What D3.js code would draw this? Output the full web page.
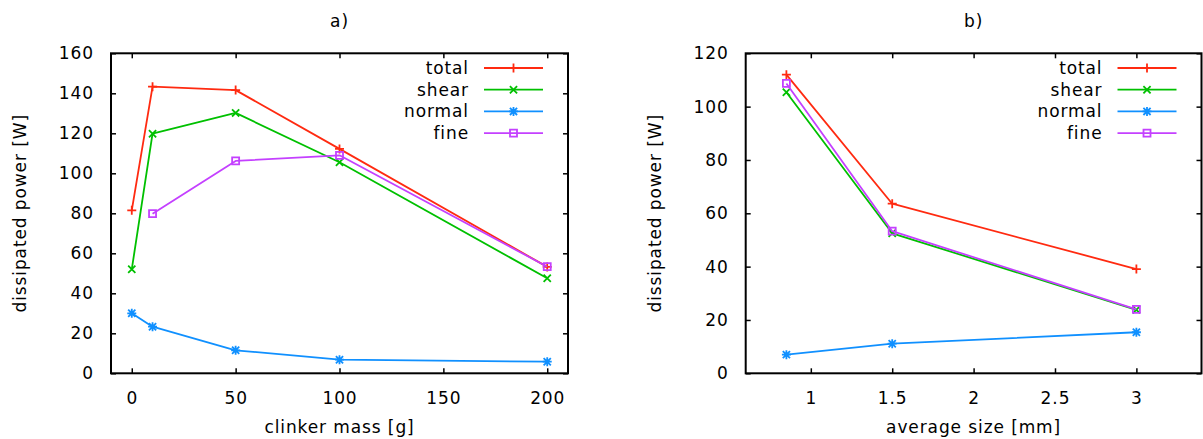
<html>
<head>
  <script src="https://d3js.org/d3.v7.min.js"></script>
  <style>
    body { margin: 0; background: #fff; }
    text { font-family: "DejaVu Sans", sans-serif; font-size: 17px; letter-spacing: 0.9px; fill: #000; }
  </style>
</head>
<body>
<svg width="1203" height="439"></svg>
<script>
// panel a) clinker mass
var massX = [0, 10, 50, 100, 200];
var totalA = [81.5, 143.3, 141.6, 112.2, 53.2];
var shearA = [52, 119.8, 130.2, 105.5, 47.5];
var normalA = [30, 23.3, 11.5, 6.8, 5.8];
var fineA = [null, 79.8, 106.2, 109, 53.3];
var ticksXA = [0, 50, 100, 150, 200];
var ticksYA = [0, 20, 40, 60, 80, 100, 120, 140, 160];

// panel b) average size
var sizeX = [0.85, 1.5, 3];
var totalB = [112, 63.6, 39.1];
var shearB = [105.4, 52.5, 23.8];
var normalB = [7, 11.1, 15.4];
var fineB = [108.7, 53.3, 24];
var ticksXB = [1, 1.5, 2, 2.5, 3];
var ticksYB = [0, 20, 40, 60, 80, 100, 120];

var seriesNames = ["total", "shear", "normal", "fine"];
var colors = ["#ff2a10", "#00c000", "#1090ff", "#c440ff"];
var markers = ["plus", "cross", "star", "square"];

var svg = d3.select("svg");

function marker(type, r) {
  var p = d3.path();
  if (type == "plus" || type == "star") {
    p.moveTo(-r, 0); p.lineTo(r, 0);
    p.moveTo(0, -r); p.lineTo(0, r);
  }
  if (type == "cross" || type == "star") {
    var q = r * 0.8;
    p.moveTo(-q, -q); p.lineTo(q, q);
    p.moveTo(-q, q); p.lineTo(q, -q);
  }
  if (type == "square") {
    p.rect(-3.5, -3.5, 7, 7);
  }
  return p.toString();
}

function panel(o) {
  var x = d3.scaleLinear().domain(o.xdom).range([o.left, o.right]);
  var y = d3.scaleLinear().domain(o.ydom).range([o.bottom, o.top]);
  var g = svg.append("g");

  var bottom = g.append("g").attr("transform", "translate(0," + o.bottom + ")")
    .call(d3.axisBottom(x).tickValues(o.xticks).tickSize(-5).tickPadding(18.5).tickFormat(d3.format("")));
  var top = g.append("g").attr("transform", "translate(0," + o.top + ")")
    .call(d3.axisTop(x).tickValues(o.xticks).tickSize(-5).tickFormat(""));
  var left = g.append("g").attr("transform", "translate(" + o.left + ",0)")
    .call(d3.axisLeft(y).tickValues(o.yticks).tickSize(-5).tickPadding(17));
  var right = g.append("g").attr("transform", "translate(" + o.right + ",0)")
    .call(d3.axisRight(y).tickValues(o.yticks).tickSize(-5).tickFormat(""));
  g.selectAll(".domain").remove();
  g.selectAll(".tick line").attr("stroke", "#000").attr("stroke-width", 1.5);
  g.selectAll(".tick text").attr("font-size", null).attr("font-family", null);

  g.append("rect")
    .attr("x", o.left).attr("y", o.top)
    .attr("width", o.right - o.left).attr("height", o.bottom - o.top)
    .attr("fill", "none").attr("stroke", "#000").attr("stroke-width", 2);

  var line = d3.line()
    .defined(function(d) { return d[1] != null; })
    .x(function(d) { return x(d[0]); })
    .y(function(d) { return y(d[1]); });

  o.series.forEach(function(vals, i) {
    var pts = o.xs.map(function(v, j) { return [v, vals[j]]; });
    g.append("path").datum(pts)
      .attr("d", line)
      .attr("fill", "none")
      .attr("stroke", colors[i])
      .attr("stroke-width", 1.8)
      .attr("stroke-linejoin", "round");
    g.selectAll(".m" + i)
      .data(pts.filter(function(d) { return d[1] != null; }))
      .enter().append("path")
      .attr("transform", function(d) { return "translate(" + x(d[0]) + "," + y(d[1]) + ")"; })
      .attr("d", marker(markers[i], 4.5))
      .attr("fill", "none")
      .attr("stroke", colors[i])
      .attr("stroke-width", 1.8);

    // legend
    var ly = 68 + i * 21.7;
    var lx2 = o.right - 25, lx1 = lx2 - 59;
    g.append("text").attr("x", lx1 - 15).attr("y", ly).attr("dy", "0.35em")
      .attr("text-anchor", "end").text(seriesNames[i]);
    g.append("line").attr("x1", lx1).attr("x2", lx2).attr("y1", ly).attr("y2", ly)
      .attr("stroke", colors[i]).attr("stroke-width", 1.8);
    g.append("path").attr("transform", "translate(" + (lx1 + lx2) / 2 + "," + ly + ")")
      .attr("d", marker(markers[i], 4.5))
      .attr("fill", "none").attr("stroke", colors[i]).attr("stroke-width", 1.8);
  });

  var cx = (o.left + o.right) / 2;
  g.append("text").attr("x", cx).attr("y", 21).attr("dy", "0.35em")
    .attr("text-anchor", "middle").text(o.title);
  g.append("text").attr("x", cx).attr("y", 427).attr("dy", "0.35em")
    .attr("text-anchor", "middle").text(o.xlabel);
  g.append("text")
    .attr("transform", "translate(" + o.ylabelX + "," + (o.top + o.bottom) / 2 + ") rotate(-90)")
    .attr("dy", "0.35em").attr("text-anchor", "middle").text("dissipated power [W]");
}

panel({
  xdom: [-10, 210], ydom: [0, 160],
  left: 111, right: 568, top: 53.3, bottom: 373.3,
  xticks: ticksXA, yticks: ticksYA,
  xs: massX, series: [totalA, shearA, normalA, fineA],
  title: "a)", xlabel: "clinker mass [g]", ylabelX: 20
});

panel({
  xdom: [0.6, 3.4], ydom: [0, 120],
  left: 745.7, right: 1201.5, top: 53.3, bottom: 373.3,
  xticks: ticksXB, yticks: ticksYB,
  xs: sizeX, series: [totalB, shearB, normalB, fineB],
  title: "b)", xlabel: "average size [mm]", ylabelX: 655
});
</script>
</body>
</html>
